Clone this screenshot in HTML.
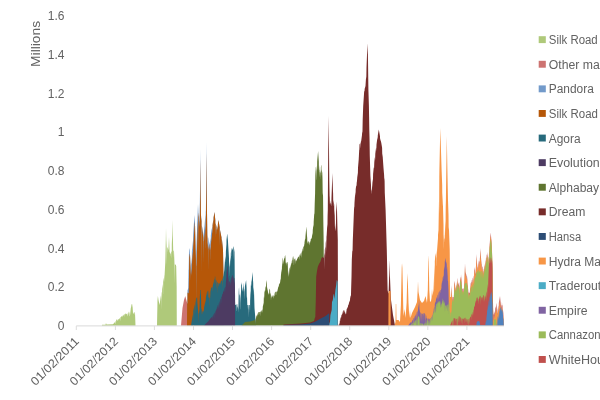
<!DOCTYPE html>
<html><head><meta charset="utf-8"><title>Chart</title>
<style>
html,body{margin:0;padding:0;background:#fff;}
body{width:600px;height:400px;overflow:hidden;position:relative;font-family:"Liberation Sans",sans-serif;}
svg{position:absolute;left:0;top:0;display:block;will-change:transform}
text{font-family:"Liberation Sans",sans-serif;fill:#626262}
</style></head><body>
<svg width="600" height="400" viewBox="0 0 600 400">
<rect width="600" height="400" fill="#fff"/>

<text x="64.5" y="330.2" font-size="12" text-anchor="end">0</text>
<text x="64.5" y="291.4" font-size="12" text-anchor="end">0.2</text>
<text x="64.5" y="252.7" font-size="12" text-anchor="end">0.4</text>
<text x="64.5" y="213.9" font-size="12" text-anchor="end">0.6</text>
<text x="64.5" y="175.2" font-size="12" text-anchor="end">0.8</text>
<text x="64.5" y="136.4" font-size="12" text-anchor="end">1</text>
<text x="64.5" y="97.7" font-size="12" text-anchor="end">1.2</text>
<text x="64.5" y="59.0" font-size="12" text-anchor="end">1.4</text>
<text x="64.5" y="20.2" font-size="12" text-anchor="end">1.6</text>
<text transform="translate(40.2,43.9) rotate(-90)" font-size="12" text-anchor="middle" textLength="46" lengthAdjust="spacingAndGlyphs">Millions</text>
<g shape-rendering="auto">
<polygon fill="#AFC97A" points="101.9,325.8 101.9,325.8 102.0,324.8 105.5,324.8 106.0,323.0 106.5,324.5 113.0,324.3 115.0,322.0 115.2,324.3 115.3,324.1 115.5,321.2 115.8,320.7 116.0,322.7 116.2,320.0 116.5,319.5 117.0,319.4 117.2,320.4 117.3,320.4 117.5,319.3 117.6,319.3 117.8,321.1 117.9,321.1 118.1,319.2 118.8,319.0 118.9,320.6 119.0,320.6 119.1,318.9 120.0,317.9 120.2,321.5 120.4,317.4 121.3,316.4 121.4,317.0 121.5,316.9 121.6,316.1 122.3,315.7 122.5,317.3 122.6,317.3 122.8,315.4 123.1,315.2 123.3,316.2 123.5,315.0 123.9,314.6 124.1,316.9 124.3,314.2 124.7,313.8 124.9,315.3 125.0,314.3 125.1,313.5 125.6,313.6 125.8,314.8 126.0,313.7 126.9,314.0 127.0,315.5 127.1,316.8 127.3,313.6 127.6,313.3 127.8,315.9 127.9,315.7 128.1,312.6 128.3,312.4 128.5,315.3 128.7,311.9 129.0,311.5 129.5,313.5 129.7,316.1 129.8,316.5 130.0,315.5 130.8,307.9 131.0,307.5 131.1,307.2 131.3,305.0 131.6,304.0 131.8,304.0 132.0,306.8 132.1,306.8 132.3,304.0 132.4,304.0 132.9,311.5 133.0,313.6 133.1,314.0 133.3,312.7 133.6,312.4 133.8,314.0 133.9,313.9 134.0,312.9 134.1,312.0 134.4,312.2 134.6,315.4 134.8,312.4 135.0,312.5 135.5,325.8 135.5,325.8"/>
<polygon fill="#AFC97A" points="157.0,325.8 157.0,325.8 157.5,300.0 157.9,296.0 158.5,300.0 159.6,305.0 160.5,298.0 161.0,295.3 161.2,299.5 161.4,293.2 161.7,291.6 161.9,310.0 162.0,299.7 162.1,289.3 162.9,284.0 163.0,294.5 163.1,293.8 163.2,282.0 163.5,280.0 164.1,277.3 164.2,281.7 164.3,281.2 164.4,275.9 164.6,275.0 165.3,262.0 165.8,240.0 166.0,228.0 166.3,240.0 166.7,248.0 166.8,257.7 166.9,265.0 167.1,248.7 167.5,247.0 167.8,248.0 167.9,251.5 168.0,251.8 168.1,249.0 168.4,250.0 169.0,237.0 169.6,252.0 170.5,254.0 170.6,253.7 170.7,256.4 170.8,256.1 170.9,252.8 171.5,251.0 171.6,258.5 171.7,256.2 171.8,244.1 172.2,235.0 172.5,220.0 172.8,235.0 173.2,250.0 173.3,257.9 173.5,250.4 174.0,251.0 174.5,264.0 174.7,283.6 174.9,264.3 176.0,265.0 176.2,285.9 176.4,265.7 176.6,266.0 176.8,325.8 176.8,325.8"/>
<polygon fill="#CD7371" points="181.0,325.8 181.0,325.8 182.5,308.0 184.0,300.0 185.2,296.2 185.3,296.2 186.6,301.1 187.4,304.0 187.5,325.8 187.5,325.8"/>
<polygon fill="#CD7371" points="451.2,325.8 451.2,325.8 451.3,290.0 451.5,285.0 451.8,292.0 452.2,297.0 452.6,297.0 452.7,298.7 452.8,301.4 452.9,300.4 453.0,297.0 453.6,297.0 453.7,298.1 453.8,305.4 453.9,297.7 454.0,291.0 454.2,285.0 454.4,280.3 454.5,282.1 454.6,283.6 454.7,281.0 454.9,284.0 455.2,286.0 455.4,293.5 455.5,290.4 455.6,287.8 455.9,287.2 456.0,290.0 456.1,293.3 456.2,289.8 456.3,286.4 456.5,286.0 457.0,282.0 457.2,284.2 457.4,278.8 457.5,278.0 457.7,279.6 457.9,288.9 458.0,285.8 458.1,282.3 458.9,284.7 459.0,285.2 459.1,290.9 459.2,290.4 459.4,283.0 459.6,282.0 459.8,290.7 459.9,290.2 460.0,284.8 460.1,279.3 460.5,276.7 460.6,278.6 460.7,280.8 460.8,280.3 461.0,274.0 461.6,282.0 461.8,285.0 461.9,289.1 462.0,294.4 462.1,294.6 462.2,289.9 462.3,288.3 463.0,289.0 463.2,288.8 463.3,292.8 463.4,295.5 463.5,290.6 463.6,288.4 464.0,288.0 464.5,280.0 465.0,263.0 465.4,272.0 466.0,274.0 466.3,274.6 466.4,280.4 466.5,280.6 466.6,275.2 467.0,276.0 467.3,279.0 467.4,285.8 467.5,286.8 467.6,282.0 468.0,288.0 468.3,290.4 468.4,292.3 468.5,299.5 468.6,292.9 468.7,292.2 469.5,293.0 469.6,292.4 469.7,292.4 469.8,292.6 469.9,290.6 470.0,290.0 470.2,287.6 470.4,289.6 470.5,286.2 470.6,283.7 471.3,281.6 471.5,285.5 471.7,280.5 472.2,279.4 472.4,290.7 472.6,278.5 473.1,277.3 473.3,287.9 473.5,276.3 473.8,275.5 474.0,286.2 474.2,271.8 474.5,267.0 475.0,270.5 475.1,273.7 475.2,274.4 475.3,272.6 475.5,274.0 476.2,262.0 476.5,254.0 476.9,262.0 477.5,268.0 477.7,266.4 477.9,273.4 478.1,263.2 478.3,261.6 478.5,270.8 478.6,271.0 478.8,260.6 479.5,262.0 479.6,268.2 479.7,267.2 479.8,259.0 480.2,255.0 480.5,248.0 480.9,256.0 481.5,264.0 481.7,264.5 481.9,276.4 482.0,276.7 482.2,265.9 482.8,267.5 483.0,282.5 483.2,268.6 483.5,269.5 483.7,273.8 483.9,270.7 484.0,271.0 484.8,263.8 485.0,266.4 485.1,266.0 485.3,260.8 485.5,260.0 485.7,271.2 485.9,258.4 486.2,257.2 486.4,265.6 486.6,255.6 487.0,254.0 487.2,262.6 487.3,262.2 487.5,252.0 488.4,259.2 488.5,264.5 488.6,267.7 488.7,266.4 488.9,255.0 489.2,251.3 489.3,254.1 489.4,256.7 489.6,245.7 490.0,240.0 490.7,232.5 491.4,240.0 492.0,250.0 492.5,270.0 492.8,293.0 493.2,310.0 493.5,315.0 494.5,312.0 494.7,310.8 494.9,314.9 495.0,314.3 495.2,308.4 495.9,306.3 496.0,308.9 496.1,311.2 496.3,304.2 496.5,303.0 497.0,307.0 497.1,307.6 497.3,313.2 497.4,313.8 497.5,312.2 497.6,309.4 497.8,308.2 498.0,315.0 498.2,306.2 498.4,305.4 498.5,308.9 498.6,312.1 498.8,303.1 499.3,300.0 500.0,296.0 501.0,306.0 501.4,304.4 501.6,307.6 501.7,307.2 501.9,302.4 502.0,302.0 502.2,305.5 502.4,304.7 502.6,306.0 502.7,311.1 502.8,312.1 502.9,309.0 503.0,310.0 503.4,313.2 503.5,315.2 503.6,320.3 503.7,324.3 503.8,325.8 503.8,325.8"/>
<polygon fill="#729ACA" points="187.0,325.8 187.0,325.8 187.1,302.9 187.4,304.0 187.5,290.5 188.3,288.0 188.8,252.0 188.9,270.0 189.0,269.5 189.1,250.3 189.5,248.0 190.0,254.0 190.5,267.3 190.6,270.9 190.7,281.0 190.8,274.7 190.9,266.0 191.2,262.0 191.5,257.5 191.7,277.7 191.9,251.5 192.0,250.0 192.8,240.4 193.0,270.2 193.2,234.8 194.0,222.0 194.5,215.0 195.0,224.0 195.6,250.0 195.9,259.0 196.0,278.0 196.1,306.3 196.2,279.9 196.3,251.8 196.5,245.0 197.2,225.0 198.0,204.0 198.5,215.0 198.7,217.0 198.8,254.6 198.9,237.7 199.0,220.0 199.2,222.0 199.7,214.0 200.0,190.0 200.2,149.0 200.6,190.0 200.9,214.0 201.3,218.0 201.5,220.3 201.7,272.4 201.9,224.9 202.0,226.0 203.4,235.3 203.5,250.5 203.6,264.0 203.8,233.0 204.5,226.0 205.3,216.0 205.4,215.0 205.5,248.8 205.6,247.8 205.7,212.0 205.9,210.0 206.2,185.0 206.4,142.0 206.8,185.0 207.0,212.0 207.3,235.0 207.5,238.6 207.6,246.3 207.7,250.4 207.8,244.0 208.5,237.0 208.7,238.6 208.9,271.0 209.1,241.8 209.5,245.0 210.5,238.0 210.6,259.7 210.7,258.9 210.8,235.6 211.5,230.0 212.3,226.8 212.4,233.3 212.5,232.9 212.6,225.2 213.3,219.6 213.4,225.8 213.5,225.0 213.6,217.4 214.5,212.0 215.3,220.0 215.5,238.2 215.7,223.1 216.5,227.3 216.6,233.5 216.7,234.0 216.8,228.9 217.0,230.0 217.6,226.0 217.7,230.3 217.8,229.6 217.9,224.0 218.5,220.0 219.6,227.3 219.8,245.6 220.0,230.0 221.5,237.5 221.6,244.0 221.7,244.5 221.8,239.0 222.0,240.0 223.0,250.0 223.5,276.0 223.6,325.8 223.6,325.8"/>
<polygon fill="#B65708" points="187.0,325.8 187.0,325.8 187.1,302.9 187.4,304.0 187.5,292.4 188.7,293.5 188.8,289.9 189.2,261.1 189.3,257.2 189.9,253.8 190.0,254.1 190.1,256.7 190.5,267.3 190.6,270.9 190.7,281.0 190.8,274.7 190.9,271.5 191.0,274.2 191.1,274.8 191.6,268.2 191.7,277.7 191.8,265.3 192.4,256.3 192.5,254.9 192.8,251.3 192.9,255.3 193.0,270.2 193.1,252.5 193.2,246.5 193.4,244.1 193.5,242.7 194.4,228.3 194.5,226.8 194.8,222.6 194.9,222.2 195.0,224.0 195.6,250.0 195.9,259.0 196.0,278.0 196.1,306.3 196.2,279.9 196.3,263.0 196.4,266.0 196.5,265.8 196.9,252.2 197.0,249.1 197.6,231.9 197.7,229.2 198.3,213.4 198.4,212.8 198.5,215.0 198.7,217.0 198.8,254.6 198.9,237.7 199.0,221.0 199.6,227.0 199.7,224.4 199.8,218.2 199.9,210.6 200.1,194.6 200.2,176.6 200.3,159.2 200.6,190.0 200.9,214.0 201.0,215.4 201.1,217.7 201.5,221.3 201.6,246.3 201.7,272.4 201.8,248.6 201.9,225.2 202.4,230.9 202.5,231.8 203.4,237.8 203.5,250.5 203.6,264.0 203.7,248.5 203.8,240.5 203.9,241.2 204.0,241.0 204.9,232.0 205.0,230.9 205.4,225.9 205.5,248.8 205.6,247.8 205.7,222.1 205.8,219.9 206.0,213.6 206.1,206.3 206.3,189.7 206.4,170.8 206.5,152.7 206.8,185.0 207.0,212.0 207.3,235.0 207.5,238.6 207.6,246.3 207.7,250.4 207.8,244.0 207.9,243.2 208.2,248.6 208.3,249.0 208.7,245.0 208.8,254.8 208.9,271.0 209.0,256.4 209.1,243.7 209.9,250.1 210.0,250.2 210.5,246.7 210.6,259.7 210.7,258.9 210.8,244.6 211.0,243.1 211.9,235.9 212.0,234.6 212.3,229.5 212.4,233.3 212.5,232.9 212.6,225.2 213.3,219.6 213.4,225.8 213.5,225.0 213.6,217.4 214.5,212.0 215.3,220.0 215.5,238.2 215.7,223.1 216.5,227.3 216.6,233.5 216.7,234.0 216.8,228.9 217.0,230.0 217.6,226.0 217.7,230.3 217.8,229.6 217.9,224.0 218.5,220.0 219.6,227.3 219.8,245.6 220.0,230.0 221.5,237.5 221.6,244.0 221.7,244.5 221.8,239.0 222.0,240.0 223.0,250.0 223.5,276.0 223.6,325.8 223.6,325.8"/>
<polygon fill="#276A7C" points="191.0,325.8 191.0,325.8 192.5,316.0 192.8,314.2 193.0,322.4 193.1,321.8 193.3,311.2 193.5,310.0 194.5,305.0 194.7,304.2 194.9,313.9 195.0,313.5 195.2,302.2 195.5,301.0 195.7,313.8 195.9,299.8 196.0,299.5 196.1,306.3 196.2,298.9 196.5,298.0 197.1,297.3 197.3,300.4 197.4,303.1 197.6,305.0 198.3,313.0 198.5,313.6 198.7,323.2 198.8,319.0 198.9,313.9 199.5,310.0 199.9,295.0 200.0,293.3 200.1,295.3 200.2,293.6 200.3,290.0 200.8,290.0 201.1,300.0 201.3,313.1 201.4,315.1 201.5,312.6 201.6,308.3 202.1,309.8 202.3,314.0 202.4,314.3 202.5,312.8 202.6,311.1 203.3,312.0 203.7,309.7 203.8,311.2 203.9,310.6 204.0,308.0 205.0,303.0 205.5,300.0 205.7,304.2 205.9,297.6 206.0,297.0 207.0,292.0 207.4,290.4 207.5,292.5 207.6,295.1 207.7,295.2 207.9,290.5 208.3,291.0 208.5,297.0 209.0,298.0 209.3,297.5 209.5,307.6 209.6,302.2 209.7,295.5 210.0,291.0 210.4,290.0 210.6,298.0 210.7,297.8 210.9,288.8 211.3,287.9 212.3,286.6 212.5,291.4 212.6,291.2 212.7,288.6 212.8,285.7 213.5,282.0 213.6,281.6 213.7,284.3 213.8,283.9 213.9,280.4 214.5,278.0 214.7,286.8 214.9,276.4 215.0,276.0 215.3,277.2 215.5,283.4 215.6,283.8 215.8,279.2 216.0,280.0 216.5,281.0 216.7,288.0 216.8,288.2 217.0,282.0 217.7,282.7 217.9,293.7 218.1,283.1 218.6,283.6 218.8,286.4 218.9,286.5 219.0,285.3 219.1,283.9 220.3,282.3 220.5,284.6 220.6,284.4 220.8,281.6 222.0,280.0 222.2,288.8 222.4,278.9 222.9,277.6 223.0,280.7 223.1,280.4 223.2,276.8 223.5,276.0 224.3,270.0 225.0,260.0 225.4,256.0 225.6,262.2 225.7,261.2 225.9,251.0 226.0,250.0 226.3,244.0 226.4,250.6 226.5,240.0 227.2,233.5 227.9,240.0 228.6,251.7 229.0,258.5 229.2,276.9 229.4,265.3 229.5,267.0 230.4,257.1 230.5,261.5 230.6,266.3 230.8,253.6 231.5,248.0 231.7,248.4 231.8,256.1 231.9,256.3 232.0,249.0 232.5,250.0 233.2,246.5 233.4,260.6 233.5,252.5 233.6,245.7 234.5,252.0 234.6,259.6 234.8,281.2 234.9,286.9 235.0,290.0 235.2,305.0 236.2,304.6 236.3,311.3 236.4,311.3 236.5,304.4 236.8,304.3 237.0,311.2 237.2,304.1 237.4,304.0 237.5,305.7 237.6,308.2 237.8,306.2 238.2,309.2 238.3,312.7 238.4,308.2 238.5,301.0 238.7,292.0 239.0,287.0 239.1,288.2 239.3,294.1 239.4,295.3 239.5,294.7 239.6,294.0 239.8,296.0 240.0,308.7 240.1,309.7 240.2,305.4 240.3,298.3 240.7,291.7 240.8,296.9 240.9,302.2 241.1,285.3 241.3,282.1 241.5,283.9 241.6,285.4 241.8,283.5 241.9,285.0 242.0,290.8 242.1,292.3 242.2,289.5 242.3,291.0 243.0,287.0 243.1,286.2 243.2,291.7 243.3,290.9 243.4,283.8 243.5,283.0 244.1,289.9 244.2,295.5 244.3,299.4 244.5,289.1 244.6,288.5 244.7,291.4 244.8,290.8 244.9,286.6 245.0,286.0 245.7,280.4 245.9,285.3 246.0,281.2 246.1,279.7 246.6,288.0 246.8,298.3 247.0,296.0 247.3,305.0 247.8,305.0 248.0,309.5 248.1,309.5 248.3,305.0 248.7,305.0 248.9,317.6 249.1,305.0 249.8,305.0 250.0,313.6 250.2,294.6 250.3,292.0 250.4,290.9 250.6,299.9 250.8,286.3 251.0,284.0 251.2,286.4 251.4,282.0 251.8,280.0 252.5,272.0 253.2,283.0 253.4,295.6 253.6,287.0 254.0,291.0 254.5,308.0 255.6,321.2 256.0,325.8 256.0,325.8"/>
<polygon fill="#4D3B62" points="204.0,325.8 204.0,325.8 205.7,323.8 208.1,321.4 210.2,318.8 212.1,316.7 212.3,318.9 212.4,318.8 212.6,316.2 212.9,315.7 213.3,315.0 213.4,317.5 213.5,317.3 213.6,314.5 214.7,312.5 214.9,319.3 215.1,311.8 215.7,310.3 215.9,315.8 216.1,309.4 216.4,308.6 216.6,310.3 216.7,310.1 216.9,307.4 217.2,306.7 217.3,309.2 217.4,309.0 217.5,306.0 218.1,304.6 218.3,308.1 218.4,307.9 218.6,303.4 218.8,302.9 219.0,312.3 219.2,301.9 219.5,301.2 219.7,304.7 219.8,304.5 220.0,300.0 220.6,298.5 220.8,305.5 221.0,297.5 221.6,296.0 221.8,302.9 221.9,302.6 222.1,294.8 222.7,293.3 222.8,294.7 222.9,294.4 223.0,292.5 224.0,290.0 224.2,293.0 224.4,288.9 225.4,286.3 225.5,289.9 225.6,292.8 225.8,283.0 226.3,278.0 226.7,269.2 226.8,269.4 226.9,271.7 227.1,266.6 227.5,266.0 228.0,274.0 228.1,280.2 228.2,280.9 228.3,276.2 228.7,279.2 228.8,283.0 228.9,286.4 229.0,286.7 229.2,281.1 229.5,282.0 230.0,281.0 230.2,285.4 230.3,285.2 230.5,280.0 230.8,279.1 230.9,283.0 231.0,282.7 231.1,278.2 231.5,277.0 231.8,276.4 231.9,282.4 232.0,282.2 232.1,275.8 232.5,275.0 232.8,275.6 233.0,279.0 233.1,279.2 233.3,276.6 233.6,277.2 233.7,280.5 233.8,280.7 233.9,277.7 234.4,278.6 234.6,284.0 234.7,282.0 234.8,281.2 234.9,286.9 235.0,290.0 235.1,325.8 235.1,325.8"/>
<polygon fill="#5F7530" points="241.5,325.8 241.5,325.8 245.0,322.0 250.2,321.4 255.0,320.0 255.3,318.2 255.4,318.8 255.9,324.6 256.0,316.3 256.3,315.9 256.5,317.9 256.7,315.4 257.0,315.0 257.5,313.9 257.6,316.6 257.7,316.3 257.8,313.3 258.4,312.0 258.7,312.0 258.8,315.0 258.9,315.0 259.0,312.0 259.7,312.0 259.8,314.4 259.9,314.4 260.0,312.0 260.7,311.3 260.9,316.6 261.1,310.9 261.4,310.6 261.6,312.5 261.8,310.2 262.0,310.0 262.3,309.3 262.5,312.6 262.6,312.4 262.8,307.1 263.4,302.7 263.5,304.8 263.6,306.4 263.8,298.4 264.0,295.9 264.2,298.7 264.4,292.6 265.0,290.0 265.2,291.0 265.4,288.0 265.8,286.0 266.0,287.3 266.2,282.6 266.5,280.0 266.9,284.0 267.0,289.3 267.1,290.3 267.2,287.0 268.0,292.0 268.1,292.2 268.2,294.9 268.3,295.1 268.4,293.0 268.8,294.0 269.0,292.4 269.1,294.2 269.2,293.4 269.3,290.0 269.8,288.5 270.1,290.4 270.2,294.3 270.3,294.9 270.4,292.4 270.5,293.0 270.8,293.9 271.0,301.0 271.2,295.2 271.5,296.1 271.6,297.7 271.7,298.0 271.8,297.0 272.4,296.0 272.5,297.1 272.6,297.0 272.7,295.5 273.0,295.0 273.3,295.3 273.5,298.5 273.6,298.6 273.8,295.8 274.0,296.0 274.1,295.6 274.3,296.5 274.4,296.1 274.6,293.7 275.1,291.8 275.2,295.0 275.3,295.1 275.4,291.8 276.3,292.0 276.4,295.0 276.5,295.0 276.6,291.8 277.3,290.5 277.4,292.3 277.5,292.2 277.6,290.0 278.5,286.1 278.7,287.0 278.8,286.6 279.0,284.0 279.6,282.9 279.8,284.8 279.9,284.6 280.1,282.0 280.2,281.8 280.6,278.4 280.7,279.9 280.8,279.0 280.9,275.9 281.0,275.0 281.6,268.8 281.8,272.5 282.0,264.7 282.2,262.6 282.4,266.8 282.6,258.5 282.7,257.5 283.1,259.7 283.3,264.6 283.5,262.0 284.3,258.0 284.4,257.7 284.6,258.6 284.8,256.3 285.2,255.0 285.5,258.0 285.7,263.9 285.9,262.0 286.0,263.0 286.2,262.8 286.4,265.9 286.6,262.4 286.8,262.2 287.0,263.7 287.1,263.7 287.3,262.0 287.7,262.0 287.9,267.6 288.0,274.3 288.1,277.1 288.2,276.0 289.0,270.0 289.2,274.7 289.4,268.7 289.8,267.3 290.0,269.7 290.1,269.4 290.3,265.7 290.5,265.1 290.7,267.4 290.8,267.1 291.0,263.5 291.3,262.6 291.5,264.8 291.6,264.5 291.8,261.0 292.3,259.3 292.4,263.1 292.5,262.8 292.6,258.3 292.7,258.0 293.0,256.2 293.1,260.2 293.2,259.6 293.3,255.6 293.7,258.1 293.9,264.9 294.0,265.5 294.2,259.6 294.7,258.6 294.8,259.6 294.9,259.4 295.0,258.0 295.3,258.9 295.5,264.4 295.7,260.1 296.0,261.0 296.6,259.8 296.8,261.7 297.0,259.0 297.5,258.0 297.6,259.2 297.7,259.0 297.8,257.5 298.5,256.4 298.7,257.6 298.8,257.4 299.0,255.6 299.3,255.2 299.5,259.5 299.6,259.4 299.8,254.6 300.1,254.4 300.3,256.1 300.4,256.0 300.5,255.0 300.6,253.8 301.2,252.8 301.4,257.5 301.5,257.4 301.7,251.9 301.9,251.6 302.1,250.9 302.2,251.8 302.3,251.5 302.4,250.0 303.0,248.0 303.1,251.0 303.2,250.6 303.3,246.9 303.6,245.9 303.8,247.3 303.9,247.0 304.1,244.1 304.2,243.7 304.3,246.0 304.4,245.7 304.5,242.4 305.1,238.5 305.3,239.7 305.5,236.0 306.4,226.5 307.0,236.0 307.2,237.7 307.3,243.3 307.4,244.1 307.5,240.4 307.8,243.0 308.4,240.8 308.6,244.4 308.8,240.9 309.3,243.1 309.5,245.5 309.6,245.1 309.8,242.8 310.3,240.8 310.5,243.2 310.7,239.5 311.4,237.9 311.6,239.1 311.7,238.9 311.9,236.7 312.0,236.5 312.4,233.1 312.6,235.6 312.8,229.7 313.4,224.7 313.5,227.0 313.6,226.2 313.7,221.6 314.2,214.3 314.4,213.7 314.5,212.2 314.7,204.3 315.1,193.0 315.4,171.6 315.5,169.5 315.6,175.1 315.8,166.4 316.0,167.7 316.2,179.4 316.3,180.0 316.5,171.0 316.9,165.5 317.0,170.3 317.1,168.9 317.2,161.4 317.3,160.0 318.1,151.0 318.7,160.0 318.8,161.6 318.9,172.0 319.0,164.7 319.3,169.5 319.5,170.3 319.7,177.5 319.9,171.8 320.2,173.0 320.5,170.5 320.7,180.1 320.8,173.6 320.9,167.3 321.3,164.5 321.4,165.6 321.5,174.8 321.6,175.9 321.7,168.9 321.8,170.0 322.3,173.0 322.5,178.7 322.7,192.7 322.8,195.6 323.0,193.0 323.3,220.0 323.7,243.0 323.8,325.8 323.8,325.8"/>
<polygon fill="#772C2A" points="283.5,325.8 283.5,325.8 283.6,324.5 301.0,323.4 310.1,322.5 314.0,321.0 314.8,318.0 315.3,317.0 315.8,300.0 316.2,276.8 317.0,271.0 317.8,266.7 319.0,264.0 320.4,261.7 321.5,258.0 322.5,257.0 323.7,258.0 324.4,252.8 324.6,270.0 324.8,249.9 325.3,246.4 325.5,258.0 325.7,243.3 326.1,240.0 326.3,252.0 326.5,236.7 326.7,235.0 327.3,223.9 327.4,227.4 327.5,224.4 327.6,216.0 327.8,210.0 328.2,150.0 328.5,116.0 329.0,150.0 329.3,180.0 329.6,196.0 329.7,197.0 329.9,203.5 330.0,204.5 330.2,200.7 330.3,201.0 330.5,205.7 330.6,204.0 330.7,202.4 331.1,204.2 331.2,206.5 331.3,205.8 331.5,197.4 331.8,190.0 332.4,173.0 333.0,192.0 333.1,193.3 333.3,205.2 333.4,206.5 333.6,200.0 334.2,205.0 334.4,215.2 334.6,210.0 334.9,226.0 335.3,231.0 335.6,223.0 335.8,231.5 335.9,228.8 336.1,212.0 336.8,201.4 337.4,226.5 337.8,240.0 338.0,325.8 338.0,325.8"/>
<polygon fill="#772C2A" points="338.4,325.8 338.4,325.8 339.3,323.0 339.5,325.2 339.6,324.9 339.8,321.0 340.0,320.1 340.1,321.3 340.2,320.8 340.3,318.7 340.7,316.7 340.9,318.8 341.0,318.3 341.2,315.0 341.7,314.4 341.9,317.8 342.0,315.8 342.1,313.7 342.3,313.2 342.5,314.3 342.7,312.1 343.5,310.0 343.6,312.9 343.7,312.9 343.8,310.0 344.1,310.0 344.3,311.9 344.4,311.9 344.6,310.0 344.9,312.2 345.1,314.5 345.2,314.2 345.4,312.7 345.5,312.4 345.7,314.3 345.8,314.0 346.0,311.0 346.1,310.7 346.3,313.9 346.4,313.6 346.6,309.2 346.8,308.6 347.0,309.7 347.2,307.7 347.5,307.1 347.7,308.0 347.8,307.8 348.0,306.0 348.6,304.1 348.7,304.9 348.8,304.6 348.9,303.2 349.3,301.9 349.7,300.2 349.9,302.0 350.1,298.4 350.2,298.0 350.7,295.2 350.9,296.6 351.0,294.8 351.1,290.2 351.5,276.8 351.8,260.0 352.3,250.6 352.5,251.4 352.6,249.5 352.7,245.3 352.8,240.4 353.5,222.5 354.0,209.8 354.2,207.0 354.3,207.3 354.4,205.9 354.5,202.8 355.2,193.0 355.3,192.3 355.5,196.9 355.7,189.3 356.0,187.0 356.3,185.2 356.5,186.5 356.7,182.8 357.0,181.0 357.6,172.8 357.8,176.9 358.0,167.7 358.7,159.5 359.2,150.1 359.3,150.1 359.4,148.2 359.5,144.4 360.3,143.0 360.5,147.9 360.6,147.7 360.8,141.9 361.2,141.0 362.0,135.0 362.2,131.5 362.4,133.0 362.5,130.2 362.7,119.8 363.2,106.0 364.2,91.1 364.3,90.7 364.4,91.6 364.5,91.4 364.7,88.6 364.8,88.4 365.5,86.0 366.1,76.6 366.2,78.1 366.3,78.8 366.5,67.5 367.0,55.0 367.7,43.3 368.0,60.0 368.4,89.6 368.9,106.0 369.1,117.0 369.3,129.8 369.5,137.3 369.6,142.0 369.8,156.0 370.4,176.0 371.0,185.0 371.2,193.0 371.3,193.9 371.5,189.3 371.7,191.0 372.3,185.0 372.7,179.0 372.9,182.2 373.1,174.0 373.7,168.0 373.8,167.1 374.0,168.4 374.1,167.5 374.3,162.3 374.6,159.5 374.9,157.0 375.1,160.0 375.3,153.7 375.5,152.0 376.1,147.5 376.3,151.2 376.5,144.5 377.5,137.0 377.6,139.4 377.7,138.8 377.8,135.2 378.8,129.4 379.7,134.6 380.0,136.4 380.1,140.7 380.2,141.3 380.3,138.2 380.5,139.4 381.3,143.0 382.1,147.8 382.3,156.7 382.5,153.6 383.0,160.9 383.5,168.0 384.1,175.1 384.2,177.6 384.3,178.8 384.4,178.6 384.6,181.0 384.8,193.0 385.6,210.0 386.8,250.0 387.6,290.0 388.3,293.5 388.6,293.0 389.2,275.0 389.5,260.0 389.9,275.0 390.5,290.0 391.0,300.0 393.0,315.0 394.6,323.6 395.0,325.8 395.0,325.8"/>
<polygon fill="#2C4D75" points="283.5,325.8 283.5,325.8 283.6,325.0 300.5,324.5 310.1,323.5 314.6,321.9 321.2,318.2 325.6,315.9 328.7,313.6 329.2,313.6 329.3,325.8 329.3,325.8"/>
<polygon fill="#F79646" points="388.4,325.8 388.4,325.8 388.5,293.2 388.6,293.0 388.7,291.0 390.5,291.0 390.6,292.0 390.7,325.8 390.7,325.8"/>
<polygon fill="#F79646" points="394.5,325.8 394.5,325.8 394.8,324.7 394.9,325.2 395.0,323.9 395.5,322.0 395.8,304.0 396.2,304.0 396.5,320.0 398.5,320.0 400.0,322.0 400.9,305.0 401.3,285.0 401.7,268.0 402.0,263.0 402.4,268.0 402.8,285.0 403.2,305.0 403.5,316.0 404.5,309.0 405.5,318.0 406.6,303.0 407.1,283.0 407.5,273.0 407.9,283.0 408.5,303.0 409.3,318.0 410.0,310.0 410.5,318.0 412.0,313.0 415.0,307.0 417.0,302.0 417.7,290.0 418.0,281.0 418.5,292.0 420.0,300.0 422.0,303.0 424.0,301.0 425.5,296.0 427.0,303.0 427.8,290.0 428.3,262.0 428.5,255.0 428.8,262.0 429.3,290.0 430.0,302.0 431.0,301.0 431.5,298.0 432.0,288.5 432.5,296.0 433.5,290.0 434.5,265.0 434.7,290.4 434.8,261.4 435.5,253.0 436.2,258.0 436.3,266.3 436.4,265.3 436.5,255.0 437.0,250.0 437.5,240.0 437.6,239.0 437.8,252.6 438.0,235.0 438.5,230.0 439.0,200.0 439.1,214.0 439.2,206.5 439.3,177.5 439.4,170.0 440.3,128.0 441.6,170.0 442.2,185.0 442.3,203.7 442.4,206.2 442.5,192.5 442.8,200.0 443.5,225.0 443.6,246.5 443.7,249.5 443.8,234.0 444.0,240.0 444.4,237.5 444.5,242.1 444.6,241.5 444.7,235.6 444.8,235.0 445.3,220.7 445.5,234.1 445.7,207.5 445.9,200.0 446.3,170.0 446.8,136.0 447.4,170.0 448.0,200.0 448.5,215.0 448.7,229.9 448.9,227.0 449.0,230.0 449.7,248.7 449.8,258.0 450.0,290.0 450.3,297.0 451.0,297.0 451.3,292.5 451.5,287.5 451.8,294.5 452.1,298.2 452.2,300.3 452.3,301.0 452.4,301.0 452.6,299.5 452.7,299.5 452.8,301.4 452.9,300.4 453.0,299.5 453.2,301.9 453.4,299.5 453.7,299.5 453.8,305.4 453.9,297.7 454.0,293.5 454.2,287.5 454.3,285.2 454.5,282.1 454.6,283.6 454.7,283.5 454.9,286.5 455.1,287.8 455.2,289.2 455.3,289.9 455.4,293.5 455.5,290.5 455.9,289.7 456.0,290.0 456.1,293.3 456.2,289.8 456.3,290.5 456.4,290.3 456.5,288.5 456.9,285.3 457.1,283.8 457.2,284.2 457.3,282.1 457.5,280.5 457.7,282.1 457.8,284.2 457.9,288.9 458.0,285.8 458.1,284.8 458.3,285.4 458.5,288.1 458.6,288.4 458.8,286.9 459.0,287.5 459.1,290.9 459.2,290.4 459.3,286.7 459.4,285.5 459.5,285.7 459.6,285.2 459.7,286.3 459.8,290.7 459.9,290.2 460.0,284.8 460.1,281.8 460.4,279.8 460.5,281.1 460.6,280.4 460.7,280.8 460.8,280.3 460.9,277.1 461.0,276.5 461.3,280.5 461.4,283.5 461.5,284.8 461.6,284.5 461.8,287.5 461.9,289.1 462.0,294.4 462.1,294.6 462.2,291.8 462.3,291.9 462.5,291.0 463.0,291.5 463.1,291.4 463.2,292.0 463.3,292.8 463.4,295.5 463.5,291.0 463.8,290.7 463.9,292.3 464.0,292.2 464.1,288.9 464.5,282.5 464.6,279.1 464.8,272.8 464.9,269.4 465.0,265.8 465.1,267.7 465.4,274.5 466.0,276.5 466.2,278.7 466.3,278.9 466.4,280.4 466.5,280.6 466.6,277.7 467.0,278.5 467.2,280.5 467.3,282.6 467.4,285.8 467.5,286.8 467.6,284.5 467.9,289.0 468.0,291.7 468.1,293.8 468.3,292.9 468.4,293.7 468.5,299.5 468.6,294.6 468.8,296.9 468.9,297.0 469.1,295.1 469.5,295.5 469.6,294.9 469.8,295.1 470.0,292.5 470.3,288.9 470.4,289.6 470.5,286.5 470.7,286.8 470.8,286.5 471.0,285.0 471.1,284.7 471.2,285.8 471.3,285.5 471.4,283.8 471.5,285.5 471.6,283.3 472.2,281.9 472.3,285.1 472.4,290.7 472.5,284.6 472.6,281.7 472.7,282.2 472.9,280.3 473.1,279.8 473.2,282.6 473.3,287.9 473.4,282.1 473.5,278.8 473.7,278.8 473.8,278.5 473.9,280.9 474.0,286.2 474.1,279.0 474.2,274.3 474.5,269.5 474.6,270.2 474.8,273.5 475.0,273.0 475.4,275.8 475.5,277.2 475.6,275.5 475.7,273.1 476.2,264.5 476.5,256.5 476.7,260.5 476.9,266.3 477.1,266.5 477.5,270.5 477.6,269.7 477.7,269.0 477.8,269.9 477.9,273.4 478.0,268.3 478.1,265.7 478.3,264.1 478.4,266.2 478.5,270.8 478.6,271.0 478.7,265.8 478.8,263.1 479.0,264.4 479.1,264.6 479.3,264.1 479.5,264.5 479.6,268.2 479.7,267.2 479.8,261.5 480.0,259.5 480.2,259.7 480.3,257.3 480.5,250.5 480.9,258.5 481.3,263.8 481.5,269.5 481.7,267.0 481.8,270.5 481.9,276.4 482.0,276.7 482.1,271.3 482.2,268.4 482.7,269.7 482.8,271.3 482.9,275.0 483.0,282.5 483.1,275.6 483.2,271.1 483.6,272.3 483.7,273.8 483.8,273.3 483.9,273.9 484.0,273.9 484.1,272.6 484.9,265.4 485.0,266.4 485.1,266.0 485.2,263.8 485.3,263.3 485.5,262.5 485.6,265.6 485.7,271.2 485.8,264.8 485.9,260.9 486.2,259.7 486.3,261.4 486.4,265.6 486.5,260.6 486.6,258.7 486.7,257.7 487.0,256.5 487.1,258.3 487.2,262.6 487.3,262.2 487.4,257.1 487.5,254.5 487.6,255.8 487.7,256.6 487.8,256.9 488.3,260.9 488.4,262.0 488.5,264.5 488.6,267.7 488.7,266.4 488.8,260.7 488.9,257.5 489.0,256.3 489.2,256.4 489.3,254.1 489.4,256.7 489.5,251.2 489.6,248.2 490.0,242.5 490.4,238.2 490.6,237.2 490.7,236.1 490.9,237.1 491.2,240.4 491.5,245.4 491.7,247.5 492.0,252.5 492.4,268.5 492.5,272.9 492.6,280.6 492.7,287.8 492.8,295.5 493.2,315.0 493.5,320.0 493.6,319.7 493.8,321.2 493.9,320.9 494.1,318.2 494.5,317.0 494.7,315.8 494.9,316.3 495.0,314.9 495.1,313.7 496.0,311.0 496.2,311.4 496.4,308.6 496.5,308.0 497.0,312.0 497.5,315.0 497.9,312.6 498.0,315.0 498.1,311.6 498.4,310.4 498.5,310.0 498.6,312.1 498.7,308.8 499.0,306.9 499.2,307.7 499.3,307.0 499.5,303.9 500.0,301.0 500.1,302.0 500.3,305.2 500.5,306.0 501.0,311.0 501.5,309.0 501.7,308.5 501.8,308.1 502.0,307.0 502.3,309.1 502.6,311.0 503.0,315.0 503.5,319.0 503.6,321.3 503.7,324.3 503.8,325.8 503.8,325.8"/>
<polygon fill="#4BACC6" points="329.2,325.8 329.2,325.8 329.5,323.0 330.0,322.0 330.4,315.3 331.7,310.0 332.0,301.9 332.8,300.0 333.4,295.0 333.7,293.7 333.8,294.0 334.3,299.0 335.0,293.5 335.4,290.0 336.2,285.0 336.7,280.5 336.8,280.1 337.3,281.0 337.6,281.8 337.8,325.8 337.8,325.8"/>
<polygon fill="#8064A2" points="408.0,325.8 408.0,325.8 410.1,322.9 410.9,322.1 411.0,325.8 411.0,325.8"/>
<polygon fill="#8064A2" points="411.1,325.8 411.1,325.8 411.2,321.8 411.6,321.4 411.8,322.9 411.9,322.8 412.1,320.8 412.9,319.5 413.0,322.9 413.1,325.8 413.1,325.8"/>
<polygon fill="#8064A2" points="413.2,325.8 413.2,325.8 413.3,322.4 413.4,318.7 414.3,317.2 414.5,321.5 414.7,316.5 415.2,315.6 415.5,315.0 415.7,318.7 415.9,314.2 416.2,313.6 416.4,320.4 416.5,320.2 416.7,312.6 417.5,311.0 417.7,320.0 417.9,310.2 418.0,310.0 418.5,304.3 418.7,307.6 418.9,300.7 419.0,300.0 419.4,305.0 419.5,310.5 419.6,311.7 419.7,308.5 420.0,312.0 420.3,312.3 420.5,321.9 420.7,312.7 421.4,313.4 421.6,322.5 421.8,313.8 422.0,314.0 422.8,313.6 423.0,323.1 423.2,313.4 423.4,313.3 423.5,315.5 423.6,315.5 423.7,313.2 424.0,313.0 424.8,313.8 425.0,320.2 425.1,320.3 425.3,314.3 425.6,314.6 425.8,323.9 426.0,315.0 426.3,316.2 426.4,318.2 426.5,318.6 426.6,317.4 427.0,319.0 427.3,318.7 427.5,323.7 427.6,323.6 427.8,318.2 428.0,318.0 428.2,318.2 428.4,321.8 428.6,318.6 429.0,319.0 429.6,318.7 429.8,322.5 430.0,318.5 430.4,318.3 430.6,321.8 430.7,321.8 430.9,318.1 431.0,318.0 431.7,316.3 431.9,321.3 432.1,315.3 432.4,314.5 432.6,320.7 432.7,320.4 432.9,313.3 433.0,313.0 433.4,311.0 433.5,314.5 433.6,314.0 433.7,309.5 434.3,306.5 434.5,313.0 434.6,312.5 434.8,304.0 435.0,303.0 435.5,301.3 435.7,302.9 435.9,299.9 436.8,296.7 437.0,298.6 437.1,298.4 437.3,295.4 437.8,294.4 438.0,303.8 438.2,293.6 438.4,293.2 438.5,298.8 438.6,298.6 438.7,292.6 439.5,291.0 439.7,298.8 439.9,290.2 440.0,290.0 440.5,290.0 440.7,293.2 440.8,293.2 440.9,291.6 441.0,289.2 441.2,287.7 441.3,290.0 441.4,289.2 441.5,285.3 441.8,283.0 442.3,279.9 442.5,283.4 442.6,280.4 442.7,277.7 443.4,275.3 443.5,277.7 443.6,279.2 443.7,278.0 443.9,270.2 444.3,265.4 444.5,269.7 444.6,269.2 444.8,261.5 445.5,258.0 445.6,258.6 445.8,261.4 445.9,262.0 446.1,261.4 446.2,262.0 446.7,263.9 446.9,269.7 447.0,267.6 447.1,266.7 447.6,275.0 447.7,276.2 447.8,280.2 447.9,281.4 448.0,280.0 448.5,290.0 448.8,305.0 449.0,325.8 449.0,325.8"/>
<polygon fill="#9BBB59" points="410.0,325.8 410.0,325.8 412.3,323.7 412.4,325.8 412.4,325.8"/>
<polygon fill="#9BBB59" points="412.6,325.8 412.6,325.8 412.7,323.3 413.2,322.8 413.3,325.8 413.3,325.8"/>
<polygon fill="#9BBB59" points="413.5,325.8 413.5,325.8 413.6,322.4 414.0,322.0 414.2,323.5 414.3,323.4 414.5,321.5 414.9,321.1 415.1,323.9 415.3,320.7 416.1,319.9 416.2,323.6 416.3,325.8 416.3,325.8"/>
<polygon fill="#9BBB59" points="416.3,325.8 416.3,325.8 416.4,323.4 416.5,320.2 416.6,319.4 417.0,319.0 417.4,318.2 417.5,322.1 417.6,325.8 417.6,325.8"/>
<polygon fill="#9BBB59" points="417.6,325.8 417.6,325.8 417.7,321.7 417.8,317.4 418.7,315.6 418.9,317.0 419.0,316.8 419.2,316.7 419.6,320.0 419.8,324.8 419.9,325.5 420.0,324.6 420.1,323.0 420.4,323.1 420.5,325.1 420.6,325.8 420.6,325.8"/>
<polygon fill="#9BBB59" points="420.6,325.8 420.6,325.8 420.7,325.1 420.8,323.2 421.6,323.5 421.7,325.8 421.7,325.8"/>
<polygon fill="#9BBB59" points="421.9,325.8 421.9,325.8 422.0,323.6 422.8,323.8 422.9,325.5 423.0,325.8 423.0,325.8"/>
<polygon fill="#9BBB59" points="423.1,325.8 423.1,325.8 423.2,325.6 423.3,324.0 423.4,324.0 423.5,325.8 423.5,325.8"/>
<polygon fill="#9BBB59" points="423.8,325.8 423.8,325.8 423.9,323.7 424.6,323.3 424.7,325.0 424.8,325.8 424.8,325.8"/>
<polygon fill="#9BBB59" points="424.8,325.8 424.8,325.8 424.9,324.9 425.0,323.0 425.4,322.2 425.5,324.6 425.6,325.8 425.6,325.8"/>
<polygon fill="#9BBB59" points="425.6,325.8 425.6,325.8 425.7,324.2 425.8,323.9 425.9,321.2 426.0,321.0 426.1,323.6 426.2,325.8 426.2,325.8"/>
<polygon fill="#9BBB59" points="426.3,325.8 426.3,325.8 426.4,323.0 426.5,320.0 426.6,319.8 426.8,323.8 426.9,323.6 427.0,321.2 427.1,319.1 427.3,319.3 427.4,321.2 427.5,323.7 427.6,323.6 427.7,320.9 427.8,319.8 428.0,320.0 428.1,323.9 428.2,325.8 428.2,325.8"/>
<polygon fill="#9BBB59" points="428.2,325.8 428.2,325.8 428.3,324.1 428.4,321.8 428.5,320.5 428.9,320.9 429.0,323.2 429.1,325.2 429.2,325.1 429.4,320.4 429.5,320.3 429.6,322.5 429.7,322.4 429.8,322.5 429.9,320.5 430.0,319.5 430.4,318.9 430.5,320.1 430.6,321.8 430.7,324.2 430.9,318.2 431.0,318.0 431.6,316.5 431.8,320.2 431.9,321.3 432.1,315.3 432.4,314.5 432.6,320.7 432.7,320.4 432.8,319.5 432.9,319.2 433.1,312.7 433.4,311.8 433.5,314.5 433.6,314.0 433.7,310.9 433.9,313.2 434.0,312.9 434.2,309.4 434.3,309.1 434.4,309.8 434.5,313.0 434.6,312.5 434.7,308.3 434.8,307.6 435.0,307.0 435.2,313.3 435.3,313.1 435.5,306.0 435.7,305.6 435.9,312.1 436.0,311.9 436.2,304.6 436.9,303.2 437.0,307.3 437.1,307.2 437.2,302.8 437.7,302.3 437.8,303.6 437.9,303.5 438.0,303.8 438.1,301.9 438.7,301.3 438.9,303.3 439.0,303.2 439.2,301.0 439.5,301.0 439.7,303.3 439.9,301.0 440.0,301.0 440.4,302.6 440.6,307.6 440.7,308.0 440.9,304.6 441.0,305.0 441.1,304.8 441.2,306.9 441.3,306.7 441.4,304.3 441.8,303.5 442.2,300.4 442.4,303.2 442.5,302.4 442.7,298.4 442.9,298.8 443.1,304.1 443.3,299.6 443.6,300.2 443.7,303.8 443.8,304.0 443.9,300.8 444.0,301.0 444.8,303.9 445.0,312.8 445.1,309.1 445.2,305.1 446.0,306.0 446.1,305.9 446.3,309.3 446.5,305.5 446.9,305.1 447.1,311.1 447.2,311.0 447.4,304.6 447.6,304.4 448.0,305.0 448.2,304.0 448.4,308.0 448.6,302.0 448.7,301.5 448.8,305.0 448.9,315.4 449.0,304.1 449.2,301.7 449.5,304.2 449.6,311.0 449.7,312.7 449.8,308.5 450.0,312.0 450.3,312.3 450.5,318.2 450.7,312.7 451.0,313.0 451.3,310.5 451.5,314.4 451.6,310.8 451.7,306.7 452.1,301.3 452.2,300.3 452.3,301.0 452.4,302.3 452.5,301.3 452.6,299.5 452.7,299.5 452.8,301.4 452.9,300.4 453.0,299.5 453.2,301.9 453.4,299.5 453.7,299.5 453.8,305.4 453.9,297.7 454.0,293.5 454.1,290.5 454.2,289.6 454.4,289.2 454.6,294.5 454.7,294.3 454.9,288.2 455.0,288.0 455.2,290.9 455.3,289.9 455.4,293.5 455.5,290.5 455.9,289.7 456.0,290.0 456.1,293.3 456.2,289.8 456.3,290.5 456.4,290.9 456.5,288.5 456.9,285.3 457.0,285.0 457.2,291.6 457.4,284.2 457.7,283.6 457.8,284.2 457.9,288.9 458.0,285.8 458.1,284.8 458.2,285.2 458.3,287.5 458.4,286.8 458.5,288.1 458.6,288.4 458.8,286.9 459.0,287.5 459.1,290.9 459.2,290.4 459.3,295.8 459.4,298.5 459.5,290.3 459.6,287.5 459.7,286.3 459.8,290.7 459.9,290.2 460.0,284.8 460.1,283.6 460.3,280.6 460.4,280.3 460.5,281.1 460.6,280.4 460.7,280.8 460.8,280.9 461.2,282.1 461.4,285.5 461.5,285.8 461.6,284.7 461.7,286.0 461.8,287.5 461.9,289.1 462.0,294.4 462.1,294.6 462.2,291.8 462.3,291.9 462.4,291.8 462.5,292.1 462.6,291.1 462.8,291.3 462.9,292.0 463.0,294.0 463.1,292.0 463.2,292.0 463.3,292.8 463.4,295.5 463.5,291.6 463.6,291.4 463.7,290.8 463.8,290.7 463.9,292.3 464.0,292.2 464.1,288.9 464.4,284.1 464.5,283.9 464.6,283.8 464.8,289.9 465.0,283.5 465.5,283.0 465.9,283.0 466.1,286.5 466.3,283.0 466.9,283.0 467.1,290.0 467.3,283.0 467.4,285.8 467.5,286.8 467.6,284.5 467.9,289.0 468.0,291.7 468.1,293.8 468.3,292.9 468.4,293.7 468.5,299.5 468.6,294.6 468.8,296.9 468.9,297.0 469.0,299.7 469.1,297.9 469.2,295.2 469.5,295.5 469.6,294.9 469.8,295.1 470.0,292.5 470.2,290.1 470.3,292.5 470.4,295.8 470.5,295.6 470.7,288.3 470.9,288.0 471.0,292.0 471.1,291.9 471.2,287.5 472.1,286.1 472.2,291.7 472.3,291.5 472.4,290.7 472.5,285.5 472.8,285.0 472.9,284.8 473.1,289.3 473.2,286.5 473.3,287.9 473.4,283.5 473.6,283.0 473.7,284.5 473.8,284.2 473.9,282.3 474.0,286.2 474.1,281.6 474.2,281.2 474.3,285.3 474.4,284.9 474.5,280.0 475.0,278.0 475.4,276.0 475.5,277.2 475.6,277.0 475.7,278.4 475.8,277.9 476.0,273.0 476.5,272.0 476.7,271.7 476.8,277.0 476.9,276.8 477.0,271.3 477.6,270.5 477.7,273.5 477.8,273.4 477.9,273.4 478.0,270.0 478.4,270.0 478.5,271.8 478.6,273.8 478.7,274.0 478.9,270.5 479.0,270.7 479.1,272.5 479.2,272.6 479.3,271.1 480.0,272.0 480.3,271.7 480.5,279.0 480.7,271.3 481.0,271.0 481.4,271.0 481.6,278.1 481.8,271.0 481.9,276.4 482.0,276.7 482.1,271.3 482.4,271.8 482.5,278.0 482.6,278.2 482.7,272.4 482.8,272.6 482.9,275.0 483.0,282.5 483.1,275.6 483.2,273.2 483.3,273.3 483.5,277.4 483.6,277.5 483.8,273.8 483.9,273.9 484.0,274.0 484.7,268.4 484.8,269.2 484.9,268.4 485.0,266.4 485.1,266.0 485.2,265.2 485.3,264.8 485.5,271.9 485.6,267.6 485.7,271.2 485.8,264.8 485.9,262.4 486.2,261.2 486.3,261.4 486.4,265.6 486.5,262.4 486.6,262.0 486.8,258.8 487.0,258.0 487.1,258.3 487.2,262.6 487.3,262.2 487.4,257.1 487.5,256.0 487.7,257.5 487.8,263.7 487.9,264.5 488.0,259.7 488.3,262.0 488.4,262.0 488.5,264.5 488.6,267.7 488.7,266.4 488.8,260.7 488.9,257.5 489.0,256.3 489.2,256.4 489.3,254.1 489.4,256.7 489.5,251.2 489.6,248.2 489.8,245.4 489.9,247.1 490.0,249.9 490.2,240.9 490.4,239.7 490.6,243.1 490.7,242.5 490.9,239.1 491.2,240.9 491.3,242.1 491.5,245.4 491.6,247.0 491.7,250.4 491.8,252.0 491.9,252.0 492.0,252.5 492.4,268.5 492.5,272.9 492.6,289.9 492.8,325.8 492.8,325.8"/>
<polygon fill="#9BBB59" points="493.5,325.8 493.5,325.8 493.7,321.9 493.8,321.2 493.9,320.9 494.0,319.8 495.0,319.0 496.3,320.0 496.5,325.8 496.5,325.8"/>
<polygon fill="#C0504D" points="450.0,325.8 450.0,325.8 452.0,321.0 452.4,320.4 452.5,324.1 452.6,325.8 452.6,325.8"/>
<polygon fill="#C0504D" points="452.7,325.8 452.7,325.8 452.8,323.7 452.9,319.7 453.1,319.4 453.3,325.2 453.4,325.0 453.6,318.6 454.0,318.0 454.1,318.0 454.2,319.5 454.3,319.6 454.4,318.1 455.0,318.3 455.2,321.6 455.3,321.6 455.5,318.5 455.9,318.6 456.0,323.1 456.1,325.8 456.1,325.8"/>
<polygon fill="#C0504D" points="456.1,325.8 456.1,325.8 456.2,323.1 456.3,318.8 457.0,319.0 457.1,318.9 457.2,323.7 457.3,325.8 457.3,325.8"/>
<polygon fill="#C0504D" points="457.3,325.8 457.3,325.8 457.4,323.4 457.5,318.3 457.7,318.0 457.9,324.9 458.0,324.7 458.2,317.2 458.3,317.1 458.5,321.9 458.6,321.8 458.8,316.3 459.0,316.0 459.5,316.5 459.7,323.0 459.9,316.9 460.7,317.7 460.9,321.5 461.0,321.6 461.2,318.1 461.3,318.1 461.5,322.9 461.6,322.9 461.8,318.4 462.6,318.8 462.7,324.5 462.8,324.6 462.9,318.9 463.0,319.0 463.7,318.5 463.9,320.0 464.0,320.0 464.2,318.1 464.5,317.9 464.6,323.1 464.7,323.1 464.8,317.7 465.0,317.5 465.3,317.8 465.5,322.0 465.6,322.1 465.8,318.3 466.4,318.9 466.6,322.2 466.7,322.3 466.9,319.4 467.0,319.5 467.3,319.4 467.5,324.3 467.6,324.3 467.8,319.3 468.1,319.2 468.2,323.3 468.3,325.8 468.3,325.8"/>
<polygon fill="#C0504D" points="468.3,325.8 468.3,325.8 468.4,323.3 468.5,319.1 468.8,319.1 469.0,324.2 469.1,324.0 469.3,318.6 469.7,318.0 469.8,322.6 469.9,322.5 470.0,317.5 470.9,316.2 471.0,318.3 471.1,320.4 471.3,315.3 472.1,313.3 472.3,316.9 472.5,312.3 472.7,311.8 472.9,315.1 473.0,314.8 473.2,310.3 473.6,308.9 473.8,315.3 474.0,307.5 474.6,305.4 474.8,307.3 475.0,304.0 475.9,300.4 476.1,301.4 476.2,301.0 476.4,298.6 476.8,297.2 477.0,300.7 477.1,300.8 477.3,297.0 477.9,298.0 478.1,303.7 478.2,303.9 478.4,298.8 478.5,299.0 478.7,298.5 478.8,301.0 478.9,300.7 479.0,297.8 479.4,296.9 479.5,299.1 479.6,298.9 479.7,296.2 480.0,295.5 480.5,296.2 480.7,305.0 480.9,296.8 481.7,298.0 481.9,300.3 482.0,300.4 482.2,298.0 482.9,296.4 483.0,301.6 483.1,301.4 483.2,295.7 483.5,295.0 484.1,295.8 484.3,300.3 484.4,300.4 484.6,296.5 484.7,296.6 484.8,301.5 484.9,301.6 485.0,297.0 485.4,295.9 485.6,299.5 485.8,294.9 486.0,294.3 486.2,301.6 486.4,293.3 486.5,293.0 486.9,291.0 487.1,295.9 487.3,289.0 487.5,288.0 487.9,284.0 488.1,287.6 488.3,280.0 488.8,268.0 489.1,263.2 489.3,263.1 489.4,262.6 489.6,258.7 489.9,257.4 490.0,260.3 490.1,260.4 490.2,257.2 490.4,257.4 490.6,262.8 490.7,262.9 490.9,257.9 491.0,258.0 491.3,258.6 491.5,262.7 491.6,262.9 491.8,259.6 492.0,260.0 492.2,262.0 492.3,264.5 492.4,268.5 492.5,294.9 492.6,325.8 492.6,325.8"/>
<polygon fill="#4F81BD" points="476.3,325.8 476.3,325.8 476.8,322.0 478.0,321.0 479.5,321.5 480.2,325.0 485.3,325.0 486.0,320.0 486.2,321.9 486.3,321.0 486.5,315.5 486.7,313.7 486.9,317.9 487.0,314.0 487.1,310.4 487.4,308.6 487.6,311.5 487.8,306.2 488.0,305.0 488.1,304.5 488.3,307.2 488.4,306.7 488.6,302.0 489.0,300.0 489.2,306.3 489.3,305.9 489.5,298.0 490.0,296.0 490.1,295.7 490.3,299.0 490.5,294.5 491.0,293.0 491.2,296.4 491.4,292.5 491.8,292.0 491.9,293.0 492.1,301.9 492.2,302.9 492.4,298.0 492.6,325.8 492.6,325.8"/>
<polygon fill="#4F81BD" points="496.4,325.8 496.4,325.8 496.5,324.1 496.6,323.3 496.7,325.3 496.8,325.8 496.8,325.8"/>
<polygon fill="#4F81BD" points="496.9,325.8 496.9,325.8 497.0,322.8 497.1,319.6 497.2,319.2 497.3,322.5 497.4,325.8 497.4,325.8"/>
<polygon fill="#4F81BD" points="497.4,325.8 497.4,325.8 497.5,321.7 497.6,317.6 498.0,316.0 498.2,321.0 498.4,314.4 498.5,314.0 498.7,318.6 498.8,318.2 499.0,312.0 499.3,310.8 499.5,318.5 499.7,309.2 500.3,306.8 500.5,308.7 500.6,307.6 500.7,308.0 501.0,311.0 501.5,309.0 501.7,308.5 501.8,308.6 502.0,312.6 502.2,309.4 502.4,309.8 502.5,310.3 502.6,311.0 502.9,314.0 503.0,315.3 503.1,319.1 503.2,319.5 503.3,317.4 503.5,319.0 503.6,321.3 503.7,324.3 503.8,325.8 503.8,325.8"/>
</g>
<path d="M76.3 325.9H504" stroke="#D9D9D9" stroke-width="1" fill="none"/>
<path d="M76.3 325.9V330" stroke="#DDDDDD" stroke-width="1" fill="none"/>
<text transform="translate(79.8,342.0) rotate(-45)" font-size="12" text-anchor="end" textLength="62.5" lengthAdjust="spacingAndGlyphs">01/02/2011</text>
<path d="M115.4 325.9V330" stroke="#DDDDDD" stroke-width="1" fill="none"/>
<text transform="translate(118.8,342.0) rotate(-45)" font-size="12" text-anchor="end" textLength="62.5" lengthAdjust="spacingAndGlyphs">01/02/2012</text>
<path d="M154.4 325.9V330" stroke="#DDDDDD" stroke-width="1" fill="none"/>
<text transform="translate(157.9,342.0) rotate(-45)" font-size="12" text-anchor="end" textLength="62.5" lengthAdjust="spacingAndGlyphs">01/02/2013</text>
<path d="M193.5 325.9V330" stroke="#DDDDDD" stroke-width="1" fill="none"/>
<text transform="translate(196.9,342.0) rotate(-45)" font-size="12" text-anchor="end" textLength="62.5" lengthAdjust="spacingAndGlyphs">01/02/2014</text>
<path d="M232.5 325.9V330" stroke="#DDDDDD" stroke-width="1" fill="none"/>
<text transform="translate(236.0,342.0) rotate(-45)" font-size="12" text-anchor="end" textLength="62.5" lengthAdjust="spacingAndGlyphs">01/02/2015</text>
<path d="M271.6 325.9V330" stroke="#DDDDDD" stroke-width="1" fill="none"/>
<text transform="translate(275.1,342.0) rotate(-45)" font-size="12" text-anchor="end" textLength="62.5" lengthAdjust="spacingAndGlyphs">01/02/2016</text>
<path d="M310.7 325.9V330" stroke="#DDDDDD" stroke-width="1" fill="none"/>
<text transform="translate(314.1,342.0) rotate(-45)" font-size="12" text-anchor="end" textLength="62.5" lengthAdjust="spacingAndGlyphs">01/02/2017</text>
<path d="M349.7 325.9V330" stroke="#DDDDDD" stroke-width="1" fill="none"/>
<text transform="translate(353.2,342.0) rotate(-45)" font-size="12" text-anchor="end" textLength="62.5" lengthAdjust="spacingAndGlyphs">01/02/2018</text>
<path d="M388.8 325.9V330" stroke="#DDDDDD" stroke-width="1" fill="none"/>
<text transform="translate(392.2,342.0) rotate(-45)" font-size="12" text-anchor="end" textLength="62.5" lengthAdjust="spacingAndGlyphs">01/02/2019</text>
<path d="M427.8 325.9V330" stroke="#DDDDDD" stroke-width="1" fill="none"/>
<text transform="translate(431.3,342.0) rotate(-45)" font-size="12" text-anchor="end" textLength="62.5" lengthAdjust="spacingAndGlyphs">01/02/2020</text>
<path d="M466.9 325.9V330" stroke="#DDDDDD" stroke-width="1" fill="none"/>
<text transform="translate(470.4,342.0) rotate(-45)" font-size="12" text-anchor="end" textLength="62.5" lengthAdjust="spacingAndGlyphs">01/02/2021</text>
<rect x="538.7" y="36.2" width="7.1" height="6.9" fill="#AFC97A"/>
<text x="548.8" y="44.1" font-size="12" textLength="48.9" lengthAdjust="spacingAndGlyphs">Silk Road</text>
<rect x="538.7" y="60.8" width="7.1" height="6.9" fill="#CD7371"/>
<text x="548.8" y="68.8" font-size="12" textLength="77.5" lengthAdjust="spacingAndGlyphs">Other markets</text>
<rect x="538.7" y="85.4" width="7.1" height="6.9" fill="#729ACA"/>
<text x="548.8" y="93.4" font-size="12" textLength="45.0" lengthAdjust="spacingAndGlyphs">Pandora</text>
<rect x="538.7" y="110.0" width="7.1" height="6.9" fill="#B65708"/>
<text x="548.8" y="118.0" font-size="12" textLength="58.7" lengthAdjust="spacingAndGlyphs">Silk Road 2</text>
<rect x="538.7" y="134.6" width="7.1" height="6.9" fill="#276A7C"/>
<text x="548.8" y="142.6" font-size="12" textLength="31.8" lengthAdjust="spacingAndGlyphs">Agora</text>
<rect x="538.7" y="159.2" width="7.1" height="6.9" fill="#4D3B62"/>
<text x="548.8" y="167.2" font-size="12" textLength="50.9" lengthAdjust="spacingAndGlyphs">Evolution</text>
<rect x="538.7" y="183.8" width="7.1" height="6.9" fill="#5F7530"/>
<text x="548.8" y="191.8" font-size="12" textLength="50.3" lengthAdjust="spacingAndGlyphs">Alphabay</text>
<rect x="538.7" y="208.4" width="7.1" height="6.9" fill="#772C2A"/>
<text x="548.8" y="216.4" font-size="12" textLength="36.5" lengthAdjust="spacingAndGlyphs">Dream</text>
<rect x="538.7" y="233.0" width="7.1" height="6.9" fill="#2C4D75"/>
<text x="548.8" y="241.0" font-size="12" textLength="32.3" lengthAdjust="spacingAndGlyphs">Hansa</text>
<rect x="538.7" y="257.6" width="7.1" height="6.9" fill="#F79646"/>
<text x="548.8" y="265.6" font-size="12" textLength="72.2" lengthAdjust="spacingAndGlyphs">Hydra Market</text>
<rect x="538.7" y="282.2" width="7.1" height="6.9" fill="#4BACC6"/>
<text x="548.8" y="290.2" font-size="12" textLength="59.2" lengthAdjust="spacingAndGlyphs">Traderoute</text>
<rect x="538.7" y="306.8" width="7.1" height="6.9" fill="#8064A2"/>
<text x="548.8" y="314.8" font-size="12" textLength="38.7" lengthAdjust="spacingAndGlyphs">Empire</text>
<rect x="538.7" y="331.4" width="7.1" height="6.9" fill="#9BBB59"/>
<text x="548.8" y="339.4" font-size="12" textLength="51.7" lengthAdjust="spacingAndGlyphs">Cannazon</text>
<rect x="538.7" y="356.0" width="7.1" height="6.9" fill="#C0504D"/>
<text x="548.8" y="364.0" font-size="12" textLength="68.4" lengthAdjust="spacingAndGlyphs">WhiteHouse</text>
</svg></body></html>
